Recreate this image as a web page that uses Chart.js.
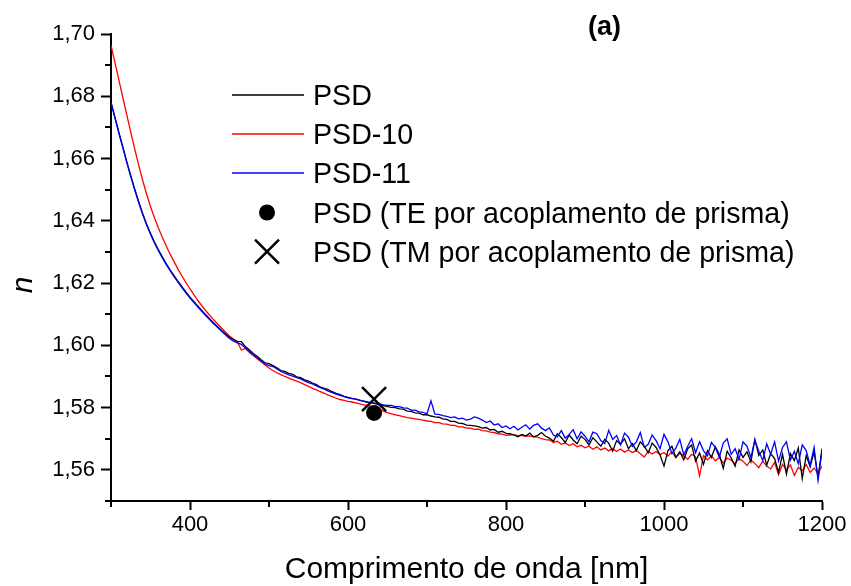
<!DOCTYPE html>
<html>
<head>
<meta charset="utf-8">
<script src="https://cdn.jsdelivr.net/npm/chart.js@4.4.1/dist/chart.umd.min.js"></script>
<style>
  html, body { margin: 0; padding: 0; background: #fff; }
  #wrap { width: 851px; height: 586px; }
</style>
</head>
<body>
<div id="wrap"><canvas id="c" width="851" height="586"></canvas></div>
<script>
// Wavelength grid (nm), shared by the three spectra
const wavelength = [
  300,305,310,315,320,325,330,335,340,345,350,355,360,365,370,375,380,385,390,395,400,
  410,420,430,440,
  450,455,460,465,470,475,480,485,490,495,500,
  505,510,515,520,525,530,535,540,545,550,
  555,560,565,570,575,580,585,590,595,600,
  605,610,615,620,625,630,635,640,645,650,
  655,660,665,670,675,680,685,690,695,700,
  705,710,715,720,725,730,735,740,745,750,
  755,760,765,770,775,780,785,790,795,800,
  805,810,815,820,825,830,835,840,845,850,
  855,860,865,870,875,880,885,890,895,900,
  905,910,915,920,925,930,935,940,945,950,
  955,960,965,970,975,980,985,990,995,1000,
  1005,1010,1015,1020,1025,1030,1035,1040,1045,1050,
  1055,1060,1065,1070,1075,1080,1085,1090,1095,1100,
  1105,1110,1115,1120,1125,1130,1135,1140,1145,1150,
  1155,1160,1165,1170,1175,1180,1185,1190,1195,1200
];

// Refractive index n, film PSD
const nPSD = [
  1.6782,1.6733,1.6684,1.6637,1.6590,1.6545,1.6502,1.6462,1.6424,1.6390,1.6360,
  1.6332,1.6307,1.6284,1.6262,1.6242,1.6223,1.6205,1.6188,1.6171,1.6155,
  1.6126,1.6098,1.6072,1.6048,
  1.6026,1.6018,1.6013,1.6012,1.5996,1.5986,1.5974,1.5965,1.5954,1.5944,1.5941,
  1.5935,1.5928,1.5919,1.5916,1.5910,1.5907,1.5899,1.5896,1.5889,1.5885,
  1.5879,1.5874,1.5866,1.5862,1.5858,1.5851,1.5846,1.5842,1.5836,1.5833,
  1.5830,1.5827,1.5823,1.5820,1.5817,1.5815,1.5812,1.5809,1.5806,1.5803,
  1.5801,1.5800,1.5796,1.5795,1.5789,1.5788,1.5783,1.5782,1.5777,1.5777,
  1.5773,1.5770,1.5769,1.5764,1.5762,1.5756,1.5756,1.5750,1.5749,1.5744,
  1.5743,1.5741,1.5739,1.5734,1.5736,1.5728,1.5730,1.5721,1.5724,1.5717,
  1.5716,1.5712,1.5706,1.5714,1.5709,1.5718,1.5706,1.5711,1.5720,1.5708,
  1.5702,1.5692,1.5716,1.5704,1.5688,1.5712,1.5696,1.5684,1.5708,1.5698,
  1.5680,1.5703,1.5690,1.5676,1.5698,1.5686,1.5660,1.5694,1.5682,1.5700,
  1.5668,1.5684,1.5662,1.5690,1.5676,1.5655,1.5686,1.5672,1.5648,1.5612,
  1.5662,1.5676,1.5640,1.5658,1.5632,1.5668,1.5680,1.5628,1.5654,1.5618,
  1.5662,1.5640,1.5674,1.5650,1.5605,1.5660,1.5638,1.5612,1.5664,1.5640,
  1.5658,1.5626,1.5698,1.5646,1.5664,1.5615,1.5652,1.5636,1.5592,1.5650,
  1.5586,1.5652,1.5630,1.5670,1.5572,1.5646,1.5610,1.5658,1.5576,1.5668
];

// Refractive index n, film PSD-10
const nPSD10 = [
  1.6964,1.6908,1.6852,1.6796,1.6740,1.6685,1.6631,1.6579,1.6531,1.6486,1.6446,
  1.6410,1.6377,1.6347,1.6319,1.6292,1.6268,1.6244,1.6222,1.6201,1.6181,
  1.6144,1.6111,1.6082,1.6055,
  1.6030,1.6020,1.6010,1.5985,1.5990,1.5978,1.5967,1.5957,1.5947,1.5937,1.5927,
  1.5919,1.5912,1.5906,1.5900,1.5895,1.5890,1.5885,1.5880,1.5874,1.5868,
  1.5862,1.5857,1.5851,1.5846,1.5840,1.5835,1.5830,1.5826,1.5823,1.5820,
  1.5818,1.5815,1.5812,1.5809,1.5806,1.5803,1.5799,1.5794,1.5789,1.5784,
  1.5780,1.5777,1.5774,1.5771,1.5768,1.5766,1.5764,1.5762,1.5760,1.5757,
  1.5756,1.5752,1.5752,1.5748,1.5747,1.5743,1.5743,1.5738,1.5738,1.5734,
  1.5734,1.5730,1.5731,1.5726,1.5725,1.5721,1.5720,1.5716,1.5715,1.5711,
  1.5712,1.5713,1.5710,1.5711,1.5708,1.5709,1.5706,1.5705,1.5700,1.5697,
  1.5696,1.5688,1.5692,1.5682,1.5687,1.5678,1.5684,1.5674,1.5679,1.5671,
  1.5676,1.5666,1.5674,1.5664,1.5670,1.5661,1.5669,1.5659,1.5667,1.5657,
  1.5664,1.5656,1.5662,1.5652,1.5641,1.5660,1.5651,1.5659,1.5649,1.5656,
  1.5644,1.5658,1.5640,1.5653,1.5645,1.5634,1.5650,1.5642,1.5581,1.5646,
  1.5632,1.5645,1.5629,1.5640,1.5622,1.5638,1.5631,1.5620,1.5636,1.5628,
  1.5614,1.5632,1.5620,1.5607,1.5628,1.5612,1.5603,1.5624,1.5584,1.5618,
  1.5600,1.5616,1.5582,1.5608,1.5597,1.5617,1.5592,1.5606,1.5588,1.5612
];

// Refractive index n, film PSD-11
const nPSD11 = [
  1.6779,1.6730,1.6681,1.6634,1.6587,1.6542,1.6499,1.6459,1.6421,1.6387,1.6357,
  1.6329,1.6304,1.6281,1.6259,1.6239,1.6220,1.6202,1.6185,1.6168,1.6152,
  1.6123,1.6095,1.6069,1.6045,
  1.6022,1.6013,1.6008,1.6003,1.5992,1.5980,1.5970,1.5960,1.5950,1.5940,1.5935,
  1.5932,1.5924,1.5916,1.5911,1.5905,1.5901,1.5896,1.5892,1.5886,1.5880,
  1.5876,1.5870,1.5864,1.5859,1.5853,1.5848,1.5843,1.5839,1.5835,1.5831,
  1.5829,1.5827,1.5824,1.5821,1.5818,1.5816,1.5814,1.5812,1.5809,1.5807,
  1.5807,1.5803,1.5803,1.5799,1.5798,1.5792,1.5792,1.5786,1.5785,1.5780,
  1.5822,1.5779,1.5778,1.5774,1.5772,1.5768,1.5770,1.5764,1.5766,1.5760,
  1.5763,1.5770,1.5766,1.5760,1.5752,1.5757,1.5744,1.5748,1.5736,1.5741,
  1.5732,1.5740,1.5728,1.5737,1.5745,1.5731,1.5743,1.5748,1.5734,1.5726,
  1.5735,1.5712,1.5706,1.5726,1.5702,1.5714,1.5729,1.5700,1.5722,1.5708,
  1.5690,1.5721,1.5716,1.5694,1.5684,1.5727,1.5698,1.5710,1.5680,1.5718,
  1.5705,1.5676,1.5690,1.5720,1.5672,1.5682,1.5712,1.5694,1.5668,1.5714,
  1.5690,1.5652,1.5670,1.5698,1.5648,1.5676,1.5700,1.5655,1.5690,1.5662,
  1.5645,1.5688,1.5672,1.5640,1.5686,1.5700,1.5650,1.5668,1.5634,1.5690,
  1.5676,1.5640,1.5696,1.5660,1.5630,1.5684,1.5650,1.5690,1.5628,1.5672,
  1.5690,1.5632,1.5660,1.5620,1.5680,1.5662,1.5614,1.5672,1.5566,1.5660
];

// Prism-coupling measurements for PSD at 633 nm
const prismWavelength = [633];
const prismTE = [1.5783];
const prismTM = [1.5827];

// Axis ticks
const xMajorTicks = [400, 600, 800, 1000, 1200];
const xMinorTicks = [300, 500, 700, 900, 1100];
const yMajorTicks = [1.56, 1.58, 1.60, 1.62, 1.64, 1.66, 1.68, 1.70];
const yMinorTicks = [1.55, 1.57, 1.59, 1.61, 1.63, 1.65, 1.67, 1.69];

const seriesLabels = ['PSD', 'PSD-10', 'PSD-11',
  'PSD (TE por acoplamento de prisma)', 'PSD (TM por acoplamento de prisma)'];

const FONT = "'Liberation Sans', Arial, Helvetica, sans-serif";

const toPoints = (xs, ys) => xs.map((x, i) => ({ x: x, y: ys[i] }));

// Short outward minor tick marks on both axes
const minorTicksPlugin = {
  id: 'minorTicks',
  afterDraw(chart) {
    const { ctx, scales: { x, y } } = chart;
    ctx.save();
    ctx.strokeStyle = '#000';
    ctx.lineWidth = 2;
    xMinorTicks.forEach(v => {
      const px = Math.round(x.getPixelForValue(v));
      ctx.beginPath(); ctx.moveTo(px, x.top); ctx.lineTo(px, x.top + 6); ctx.stroke();
    });
    yMinorTicks.forEach(v => {
      const py = Math.round(y.getPixelForValue(v));
      ctx.beginPath(); ctx.moveTo(y.right, py); ctx.lineTo(y.right - 6, py); ctx.stroke();
    });
    ctx.restore();
  }
};

// Legend block, panel letter and rotated y-axis symbol
const decorPlugin = {
  id: 'decor',
  afterDraw(chart) {
    const ctx = chart.ctx;
    ctx.save();
    const rows = [95, 134, 173, 212.5, 251.7];
    const lineX0 = 232, lineX1 = 304, markX = 267, textX = 313;
    const colors = ['#000000', '#ff0000', '#0000ff'];
    ctx.lineWidth = 1.5;
    for (let i = 0; i < 3; i++) {
      ctx.strokeStyle = colors[i];
      ctx.beginPath(); ctx.moveTo(lineX0, rows[i]); ctx.lineTo(lineX1, rows[i]); ctx.stroke();
    }
    // filled circle
    ctx.fillStyle = '#000';
    ctx.beginPath(); ctx.arc(markX, rows[3], 8, 0, Math.PI * 2); ctx.fill();
    // diagonal cross
    ctx.strokeStyle = '#000'; ctx.lineWidth = 2.5;
    const h = 12;
    ctx.beginPath();
    ctx.moveTo(markX - h, rows[4] - h); ctx.lineTo(markX + h, rows[4] + h);
    ctx.moveTo(markX - h, rows[4] + h); ctx.lineTo(markX + h, rows[4] - h);
    ctx.stroke();

    ctx.font = '28.6px ' + FONT;
    ctx.fillStyle = '#000';
    ctx.textAlign = 'left';
    ctx.textBaseline = 'alphabetic';
    seriesLabels.forEach((t, i) => ctx.fillText(t, textX, rows[i] + 10));

    ctx.font = 'bold 27px ' + FONT;
    ctx.fillText('(a)', 588, 35);

    ctx.translate(32, 285);
    ctx.rotate(-Math.PI / 2);
    ctx.font = 'italic 30px ' + FONT;
    ctx.textAlign = 'center';
    ctx.fillText('n', 0, 0);
    ctx.restore();
  }
};

new Chart(document.getElementById('c'), {
  type: 'line',
  data: {
    datasets: [
      { label: seriesLabels[0], data: toPoints(wavelength, nPSD), borderColor: '#000000',
        borderWidth: 1.3, pointRadius: 0, tension: 0, fill: false, order: 3 },
      { label: seriesLabels[1], data: toPoints(wavelength, nPSD10), borderColor: '#ff0000',
        borderWidth: 1.3, pointRadius: 0, tension: 0, fill: false, order: 4 },
      { label: seriesLabels[2], data: toPoints(wavelength, nPSD11), borderColor: '#0000ff',
        borderWidth: 1.3, pointRadius: 0, tension: 0, fill: false, order: 2 },
      { label: seriesLabels[3], data: toPoints(prismWavelength, prismTE), showLine: false,
        pointStyle: 'circle', pointRadius: 8, backgroundColor: '#000', borderColor: '#000',
        borderWidth: 0, order: 1 },
      { label: seriesLabels[4], data: toPoints(prismWavelength, prismTM), showLine: false,
        pointStyle: 'crossRot', pointRadius: 17, borderColor: '#000', borderWidth: 2.5, order: 0 }
    ]
  },
  options: {
    responsive: false,
    animation: false,
    devicePixelRatio: 1,
    layout: { padding: { left: 0, right: 29, top: 34, bottom: 0 } },
    plugins: { legend: { display: false }, tooltip: { enabled: false } },
    scales: {
      x: {
        type: 'linear', min: 300, max: 1200,
        afterBuildTicks: s => { s.ticks = xMajorTicks.map(v => ({ value: v })); },
        afterFit: s => { s.height = 85; },
        border: { display: true, color: '#000', width: 2 },
        grid: { display: true, drawOnChartArea: false, drawTicks: true, tickLength: 9,
                tickWidth: 2, tickColor: '#000' },
        ticks: { font: { family: FONT, size: 22 }, color: '#000', padding: 2,
                 maxRotation: 0, autoSkip: false, callback: v => String(v) },
        title: { display: true, text: 'Comprimento de onda [nm]', color: '#000',
                 font: { family: FONT, size: 30, lineHeight: 1.1 }, padding: { top: 0, bottom: 0 } }
      },
      y: {
        type: 'linear', min: 1.55, max: 1.70,
        afterBuildTicks: s => { s.ticks = yMajorTicks.map(v => ({ value: v })); },
        afterFit: s => { s.width = 111; },
        border: { display: true, color: '#000', width: 2 },
        grid: { display: true, drawOnChartArea: false, drawTicks: true, tickLength: 10,
                tickWidth: 2, tickColor: '#000' },
        ticks: { font: { family: FONT, size: 22 }, color: '#000', padding: 6,
                 autoSkip: false, callback: v => v.toFixed(2).replace('.', ',') }
      }
    }
  },
  plugins: [minorTicksPlugin, decorPlugin]
});
</script>
</body>
</html>
